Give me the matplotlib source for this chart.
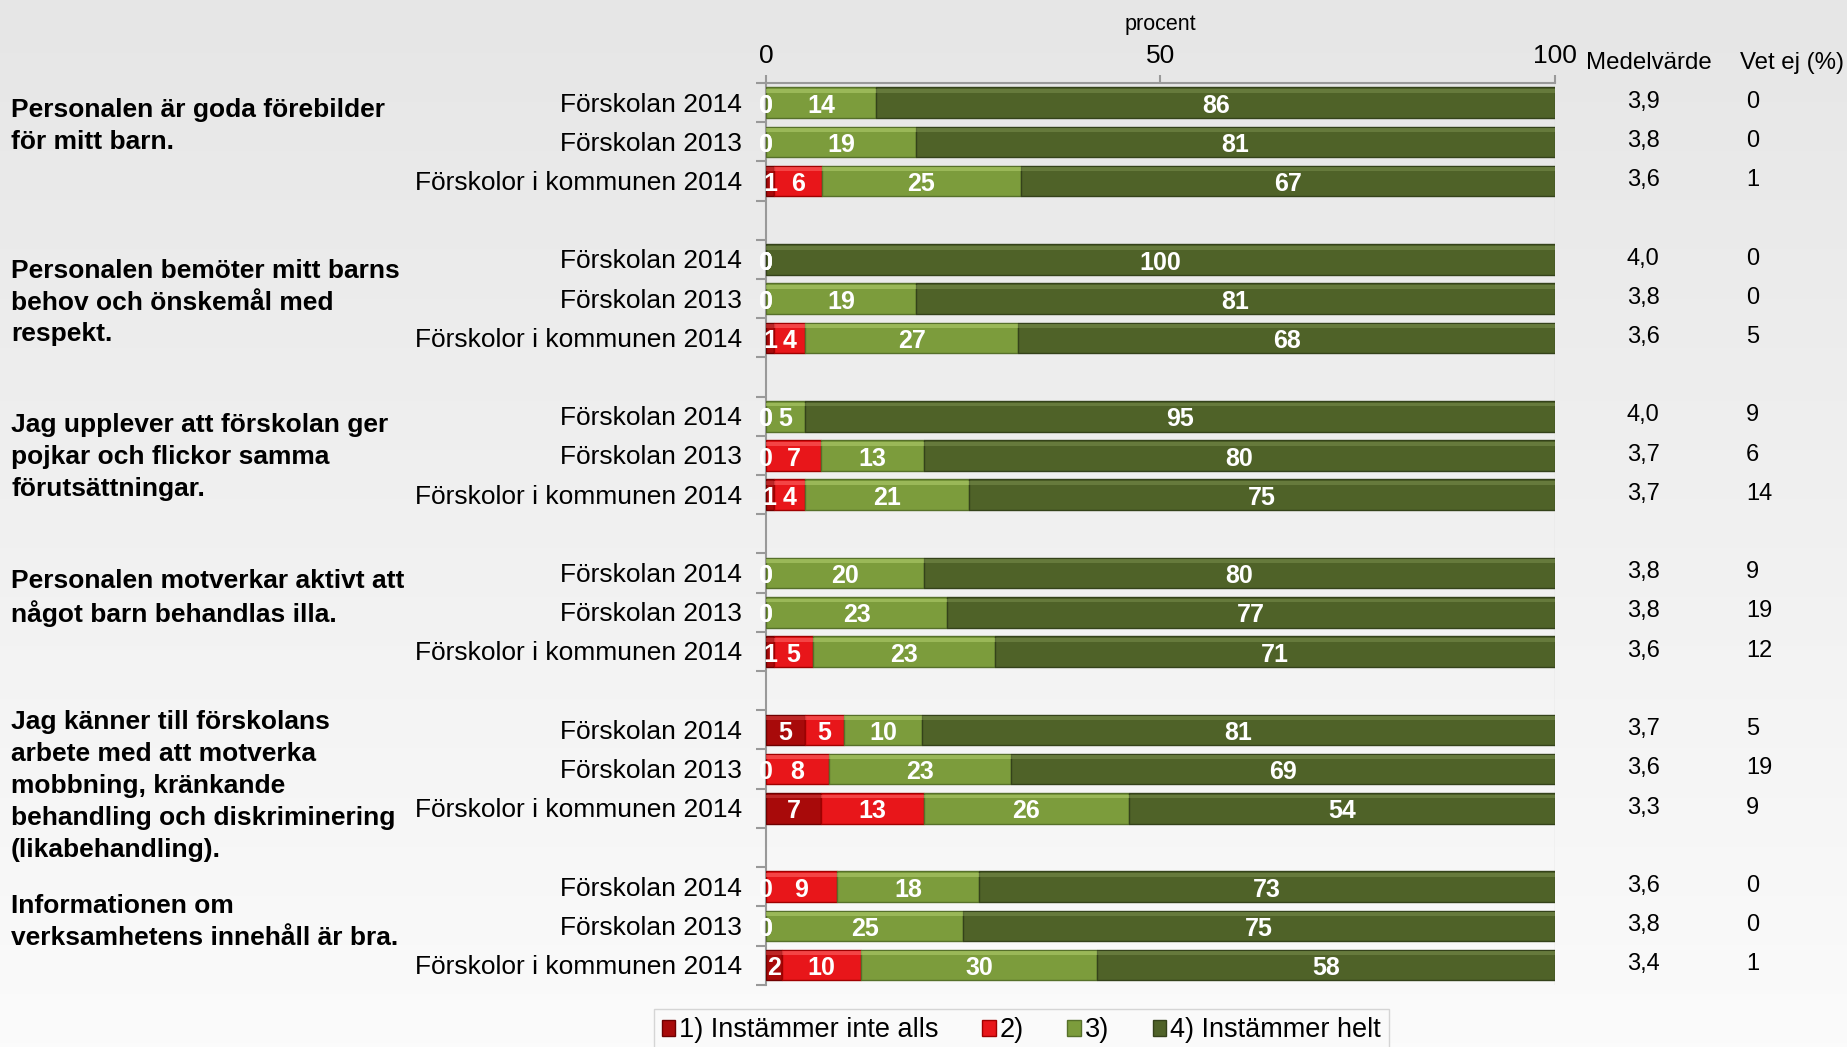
import numpy as np
import matplotlib
matplotlib.use('Agg')
import matplotlib.pyplot as plt
import matplotlib.transforms as mtransforms
from matplotlib.patches import Patch

plt.rcParams['font.family'] = ['Liberation Sans', 'DejaVu Sans']

# questions, with their group rows
questions = [
    'Personalen är goda förebilder\nför mitt barn.',
    'Personalen bemöter mitt barns\nbehov och önskemål med\nrespekt.',
    'Jag upplever att förskolan ger\npojkar och flickor samma\nförutsättningar.',
    'Personalen motverkar aktivt att\nnågot barn behandlas illa.',
    'Jag känner till förskolans\narbete med att motverka\nmobbning, kränkande\nbehandling och diskriminering\n(likabehandling).',
    'Informationen om\nverksamhetens innehåll är bra.',
]
question_y = [0.59, 5.1, 9.04, 12.62, 17.43, 20.89]
row_names = ['Förskolan 2014', 'Förskolan 2013', 'Förskolor i kommunen 2014']

# percentages per row: 1) inte alls, 2), 3), 4) helt
cat1 = [0, 0, 1,  0, 0, 1,  0, 0, 1,  0, 0, 1,  5, 0, 7,  0, 0, 2]
cat2 = [0, 0, 6,  0, 0, 4,  0, 7, 4,  0, 0, 5,  5, 8, 13, 9, 0, 10]
cat3 = [14, 19, 25,  0, 19, 27,  5, 13, 21,  20, 23, 23,  10, 23, 26,  18, 25, 30]
cat4 = [86, 81, 67,  100, 81, 68,  95, 80, 75,  80, 77, 71,  81, 69, 54,  73, 75, 58]
medel = ['3,9', '3,8', '3,6', '4,0', '3,8', '3,6', '4,0', '3,7', '3,7',
         '3,8', '3,8', '3,6', '3,7', '3,6', '3,3', '3,6', '3,8', '3,4']
vet_ej = ['0', '0', '1', '0', '0', '5', '9', '6', '14',
          '9', '19', '12', '5', '19', '9', '0', '0', '1']

legend_labels = ['1) Instämmer inte alls', '2)', '3)', '4) Instämmer helt']
colors = ['#a80a0a', '#e8161a', '#7c9c3c', '#4f6228']
edges = ['#6e0000', '#a00000', '#56702a', '#34421a']
highlights = ['#d04040', '#ff6a6a', '#b4d070', '#7a8f4e']

fig = plt.figure(figsize=(18.47, 10.47), dpi=100)

# background gradient
bg = fig.add_axes([0, 0, 1, 1], zorder=-10)
grad = np.linspace(0, 1, 256).reshape(-1, 1)
bg.imshow(grad, aspect='auto', cmap=matplotlib.colors.LinearSegmentedColormap.from_list(
    'bg', ['#e6e6e6', '#fbfbfb']), extent=[0, 1, 0, 1])
bg.axis('off')

ax = fig.add_axes([0.4147, 0.0595, 0.4272, 0.8612])
ax.patch.set_alpha(0)

ypos = []
for g in range(len(questions)):
    for r in range(3):
        ypos.append(g * 4 + r)
ypos = np.array(ypos)

data = np.array([cat1, cat2, cat3, cat4], dtype=float)
# rounded shares don't always add to 100, the bars still fill the row
widths = data / data.sum(axis=0) * 100
left = np.zeros(len(ypos))
h = 0.78
for i in range(4):
    ax.barh(ypos, widths[i], left=left, height=h, color=colors[i],
            edgecolor=edges[i], linewidth=1.0, zorder=3)
    # bevel highlight near the top of each bar
    ax.barh(ypos - h / 2 + 0.09, widths[i], left=left, height=0.1,
            color=highlights[i], alpha=0.55, linewidth=0, zorder=4)
    for y, l, w, v in zip(ypos, left, widths[i], data[i]):
        ax.text(l + w / 2, y + 0.08, '%d' % v, ha='center', va='center',
                color='white', fontsize=18, fontweight='bold', zorder=5)
    left = left + widths[i]

ax.set_xlim(0, 100)
ax.set_ylim(22.5, -0.5)

# axes styling
for s in ['right', 'bottom']:
    ax.spines[s].set_visible(False)
ax.spines['left'].set_color('#999999')
ax.spines['top'].set_color('#999999')
ax.spines['left'].set_linewidth(1.5)
ax.spines['top'].set_linewidth(1.5)
ax.axvline(100, color='#d8d8d8', lw=1, zorder=1)

ax.xaxis.tick_top()
ax.set_xticks([0, 50, 100])
ax.tick_params(axis='x', length=6, width=1.5, color='#999999', labelsize=19, pad=5)
ax.set_yticks(np.arange(-0.5, 23, 1.0))
ax.set_yticklabels([])
ax.tick_params(axis='y', length=7, width=1.5, color='#999999', direction='out')
ax.text(50, -2.0, 'procent', ha='center', va='center', fontsize=15.5)

# row labels
for y, k in zip(ypos, range(len(ypos))):
    ax.text(-3.0, y + 0.05, row_names[k % 3], ha='right', va='center', fontsize=19)
    ax.text(111.2, y - 0.02, medel[k], ha='center', va='center', fontsize=17)
    ax.text(124.2, y - 0.02, vet_ej[k], ha='left', va='center', fontsize=17)

ax.text(111.9, -1.02, 'Medelvärde', ha='center', va='center', fontsize=17.3)
ax.text(130.0, -1.02, 'Vet ej (%)', ha='center', va='center', fontsize=17.3)

# question labels, one line at a time so the spacing stays even
trans = mtransforms.blended_transform_factory(fig.transFigure, ax.transData)
dy = 0.812
for q, y in zip(questions, question_y):
    lines = q.split('\n')
    y0 = y - dy * (len(lines) - 1) / 2
    for j, line in enumerate(lines):
        ax.text(0.006, y0 + j * dy, line, transform=trans, ha='left', va='center',
                fontsize=19, fontweight='bold')

handles = [Patch(facecolor=c, edgecolor=e) for c, e in zip(colors, edges)]
leg = fig.legend(handles, legend_labels, loc='upper center', ncol=4,
                 bbox_to_anchor=(0.553, 0.036), frameon=True, fontsize=19.5,
                 handlelength=0.5, handleheight=0.5, handletextpad=0.15,
                 columnspacing=1.6, borderpad=0.3, borderaxespad=0, fancybox=False)
leg.get_frame().set_edgecolor('#cccccc')
leg.get_frame().set_facecolor('#fafafa')

fig.savefig('out.png', dpi=100)
